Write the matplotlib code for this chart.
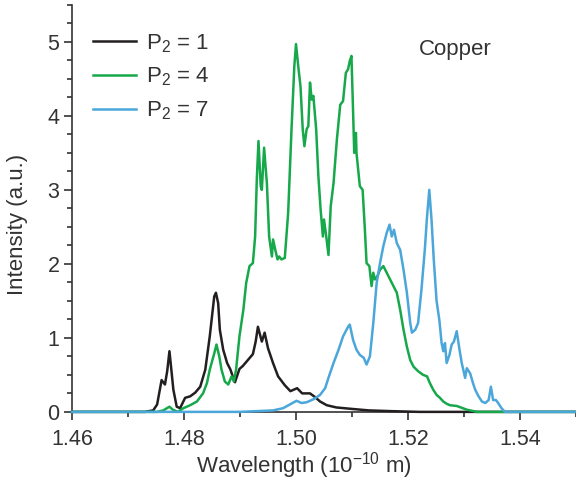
#! /usr/bin/env python3

import matplotlib
matplotlib.use('Agg')
import matplotlib.pyplot as plt
from matplotlib.ticker import MultipleLocator

# Copper emission spectra for three values of P2
wl_p1 = [1.4600, 1.4730, 1.4745, 1.4752, 1.4760, 1.4766, 1.4770, 1.4774, 1.4777, 1.4781,
         1.4787, 1.4793, 1.4802, 1.4811, 1.4820, 1.4829, 1.4838, 1.4846, 1.4854, 1.4857,
         1.4861, 1.4864, 1.4870, 1.4877, 1.4883, 1.4887, 1.4891, 1.4899, 1.4905, 1.4914,
         1.4923, 1.4928, 1.4932, 1.4939, 1.4944, 1.4950, 1.4959, 1.4968, 1.4980, 1.4990,
         1.5002, 1.5011, 1.5025, 1.5034, 1.5043, 1.5055, 1.5072, 1.5100, 1.5130, 1.5170,
         1.5220, 1.5500]
int_p1 = [0.00, 0.00, 0.02, 0.10, 0.43, 0.37, 0.55, 0.82, 0.60, 0.30,
          0.07, 0.05, 0.19, 0.21, 0.26, 0.34, 0.57, 1.02, 1.56, 1.61,
          1.47, 1.11, 0.84, 0.66, 0.57, 0.48, 0.40, 0.58, 0.62, 0.70,
          0.78, 0.95, 1.15, 0.95, 1.07, 0.86, 0.66, 0.48, 0.36, 0.28,
          0.32, 0.25, 0.25, 0.20, 0.14, 0.09, 0.06, 0.04, 0.02, 0.01,
          0.00, 0.00]

wl_p4 = [1.4600, 1.4752, 1.4763, 1.4774, 1.4780, 1.4789, 1.4799, 1.4811, 1.4823, 1.4834,
         1.4841, 1.4846, 1.4854, 1.4858, 1.4863, 1.4867, 1.4873, 1.4879, 1.4885, 1.4889,
         1.4893, 1.4899, 1.4906, 1.4911, 1.4917, 1.4923, 1.4927, 1.4930, 1.4933, 1.4937,
         1.4939, 1.4943, 1.4948, 1.4952, 1.4957, 1.4959, 1.4963, 1.4967, 1.4970, 1.4974,
         1.4980, 1.4986, 1.4992, 1.4997, 1.5000, 1.5004, 1.5008, 1.5012, 1.5015, 1.5019,
         1.5022, 1.5025, 1.5028, 1.5031, 1.5036, 1.5040, 1.5044, 1.5048, 1.5050, 1.5054,
         1.5058, 1.5062, 1.5067, 1.5073, 1.5079, 1.5084, 1.5089, 1.5093, 1.5096, 1.5099,
         1.5102, 1.5104, 1.5107, 1.5108, 1.5114, 1.5119, 1.5123, 1.5126, 1.5131, 1.5135,
         1.5138, 1.5141, 1.5145, 1.5150, 1.5156, 1.5162, 1.5168, 1.5174, 1.5180, 1.5186,
         1.5192, 1.5198, 1.5204, 1.5210, 1.5218, 1.5227, 1.5234, 1.5239, 1.5245, 1.5251,
         1.5257, 1.5263, 1.5269, 1.5275, 1.5287, 1.5305, 1.5323, 1.5500]
int_p4 = [0.00, 0.00, 0.02, 0.07, 0.03, 0.00, 0.05, 0.09, 0.14, 0.25,
          0.39, 0.57, 0.79, 0.91, 0.75, 0.57, 0.41, 0.37, 0.48, 0.41,
          0.57, 1.02, 1.38, 1.74, 1.97, 2.01, 2.37, 3.14, 3.66, 3.05,
          3.00, 3.57, 3.09, 2.37, 2.10, 2.33, 2.19, 2.06, 2.10, 2.06,
          2.08, 2.69, 3.82, 4.67, 4.97, 4.67, 4.40, 3.82, 3.59, 3.82,
          3.86, 4.45, 4.22, 4.27, 3.82, 3.18, 2.73, 2.37, 2.60, 2.37,
          2.12, 2.78, 3.09, 3.68, 4.15, 4.20, 4.58, 4.63, 4.74, 4.81,
          4.04, 3.50, 3.77, 3.50, 3.05, 3.00, 2.46, 2.01, 1.97, 1.70,
          1.88, 1.79, 1.83, 1.92, 1.97, 1.88, 1.79, 1.70, 1.61, 1.38,
          1.11, 0.88, 0.70, 0.61, 0.55, 0.50, 0.48, 0.39, 0.30, 0.23,
          0.19, 0.14, 0.11, 0.09, 0.08, 0.03, 0.00, 0.00]

wl_p7 = [1.4600, 1.4900, 1.4959, 1.4977, 1.4989, 1.5001, 1.5010, 1.5019, 1.5031, 1.5043,
         1.5052, 1.5058, 1.5067, 1.5076, 1.5084, 1.5093, 1.5096, 1.5102, 1.5108, 1.5114,
         1.5121, 1.5126, 1.5132, 1.5138, 1.5144, 1.5150, 1.5156, 1.5162, 1.5167, 1.5171,
         1.5175, 1.5180, 1.5186, 1.5192, 1.5198, 1.5204, 1.5207, 1.5213, 1.5218, 1.5224,
         1.5230, 1.5234, 1.5238, 1.5242, 1.5246, 1.5251, 1.5256, 1.5260, 1.5263, 1.5266,
         1.5269, 1.5274, 1.5278, 1.5282, 1.5287, 1.5292, 1.5296, 1.5302, 1.5305, 1.5311,
         1.5316, 1.5320, 1.5326, 1.5332, 1.5338, 1.5344, 1.5348, 1.5352, 1.5357, 1.5361,
         1.5367, 1.5373, 1.5500]
int_p7 = [0.00, 0.00, 0.02, 0.05, 0.10, 0.15, 0.12, 0.13, 0.17, 0.23,
          0.32, 0.46, 0.66, 0.84, 1.02, 1.15, 1.18, 0.97, 0.84, 0.77,
          0.73, 0.64, 0.75, 1.20, 1.74, 2.01, 2.24, 2.42, 2.53, 2.37,
          2.46, 2.28, 2.19, 1.92, 1.61, 1.20, 1.07, 1.11, 1.20, 1.65,
          2.19, 2.64, 3.00, 2.60, 2.06, 1.50, 1.24, 0.93, 0.82, 0.93,
          0.66, 0.77, 0.91, 0.95, 1.09, 0.84, 0.66, 0.46, 0.59, 0.52,
          0.39, 0.30, 0.21, 0.14, 0.12, 0.16, 0.34, 0.16, 0.16, 0.12,
          0.05, 0.00, 0.00]

series_labels = ['P$_2$ = 1', 'P$_2$ = 4', 'P$_2$ = 7']

text_color = '#333333'
plt.rcParams['font.family'] = ['Liberation Sans', 'DejaVu Sans']
plt.rcParams['mathtext.fontset'] = 'custom'
plt.rcParams['mathtext.rm'] = 'Liberation Sans'
plt.rcParams['mathtext.default'] = 'regular'

fig = plt.figure(figsize=(5.76, 4.84), dpi=100)
ax = fig.add_axes([0.125, 0.149, 0.875, 0.841])

ax.plot(wl_p1, int_p1, color='#231f20', lw=1.8, label=series_labels[0], zorder=3, clip_on=False)
ax.plot(wl_p4, int_p4, color='#17a84b', lw=1.8, label=series_labels[1], zorder=3, clip_on=False)
ax.plot(wl_p7, int_p7, color='#4ba6da', lw=1.8, label=series_labels[2], zorder=3, clip_on=False)

ax.set_xlim(1.46, 1.55)
ax.set_ylim(0, 5.5)
ax.set_xticks([1.46, 1.48, 1.50, 1.52, 1.54])
ax.set_xticklabels(['1.46', '1.48', '1.50', '1.52', '1.54'])
ax.xaxis.set_minor_locator(MultipleLocator(0.01))
ax.set_yticks([0, 1, 2, 3, 4, 5])
ax.yaxis.set_minor_locator(MultipleLocator(0.25))

for side in ['top', 'right']:
    ax.spines[side].set_visible(False)
for side in ['left', 'bottom']:
    ax.spines[side].set_color(text_color)
    ax.spines[side].set_linewidth(1.2)

ax.tick_params(which='major', direction='out', length=6, width=1.2, colors=text_color,
               labelsize=15.5, labelcolor=text_color)
ax.tick_params(axis='y', which='major', pad=3)
ax.tick_params(axis='x', which='major', pad=6)
ax.tick_params(which='minor', direction='out', length=3.5, width=1.2, colors=text_color)

ax.set_xlabel('Wavelength (10$^{-10}$ m)', fontsize=16, color=text_color)
ax.set_ylabel('Intensity (a.u.)', fontsize=16, color=text_color)
ax.xaxis.set_label_coords(0.46, -0.095)
ax.yaxis.set_label_coords(-0.087, 0.46)

leg = ax.legend(loc='upper left', bbox_to_anchor=(0.025, 0.955), frameon=False,
                fontsize=16, handlelength=1.9, handletextpad=0.45, labelspacing=0.5,
                borderaxespad=0)
for t in leg.get_texts():
    t.set_color(text_color)

ax.text(0.79, 0.897, 'Copper', transform=fig.transFigure, fontsize=16,
        color=text_color, ha='center', va='center')

fig.savefig('out.png', dpi=100)
